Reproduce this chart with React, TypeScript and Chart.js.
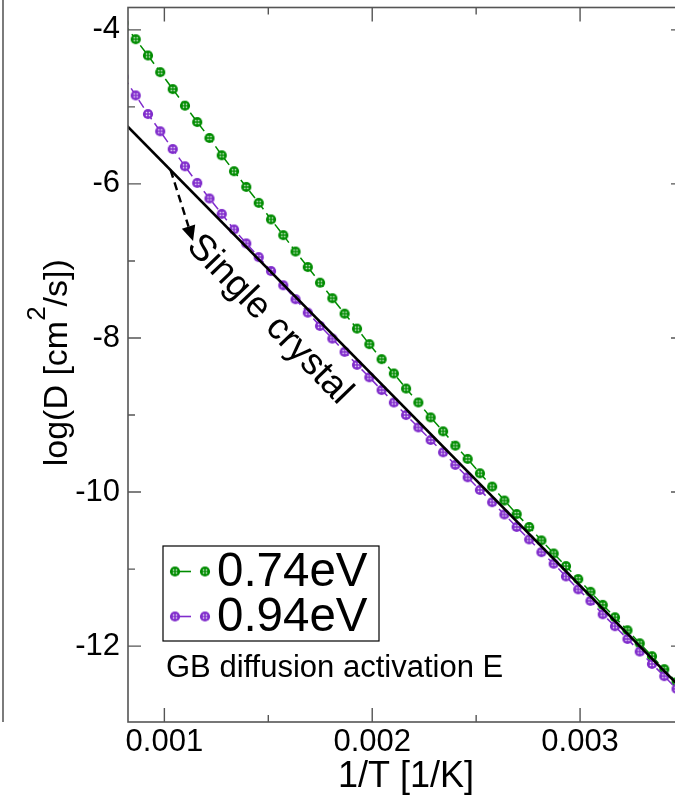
import React, { useEffect, useRef } from 'react';
import { Chart, registerables } from 'chart.js';

Chart.register(...registerables);

// ---------- data ----------
const invT = [
  0.000803, 0.000862, 0.000921, 0.00098, 0.00104, 0.001099, 0.001158, 0.001217, 0.001276, 0.001335,
  0.001394, 0.001454, 0.001513, 0.001572, 0.001631, 0.00169, 0.001749, 0.001808, 0.001867, 0.001927,
  0.001986, 0.002045, 0.002104, 0.002163, 0.002222, 0.002281, 0.002341, 0.0024, 0.002459, 0.002518,
  0.002577, 0.002636, 0.002695, 0.002755, 0.002814, 0.002873, 0.002932, 0.002991, 0.00305, 0.003109,
  0.003168, 0.003228, 0.003287, 0.003346, 0.003405, 0.003464,
];
const logD074 = [
  -3.911, -4.122, -4.333, -4.549, -4.769, -4.984, -5.197, -5.404, -5.628, -5.835,
  -6.039, -6.246, -6.461, -6.665, -6.878, -7.079, -7.282, -7.484, -7.684, -7.878,
  -8.08, -8.275, -8.461, -8.656, -8.837, -9.031, -9.212, -9.398, -9.57, -9.756,
  -9.929, -10.11, -10.285, -10.453, -10.628, -10.797, -10.961, -11.13, -11.295, -11.464,
  -11.626, -11.794, -11.963, -12.131, -12.299, -12.468,
];
const logD094 = [
  -4.609, -4.851, -5.093, -5.317, -5.547, -5.771, -5.987, -6.189, -6.389, -6.591,
  -6.772, -6.95, -7.131, -7.316, -7.497, -7.671, -7.843, -8.008, -8.18, -8.349,
  -8.51, -8.676, -8.837, -9.0, -9.161, -9.324, -9.484, -9.648, -9.808, -9.972,
  -10.132, -10.291, -10.453, -10.615, -10.78, -10.93, -11.095, -11.263, -11.412, -11.587,
  -11.742, -11.907, -12.07, -12.231, -12.39, -12.554,
];
const singleCrystalX = [0.0008, 0.0035];
const singleCrystalY = [-5.192, -12.585];

const seriesLabels = ['0.74eV', '0.94eV'];
const legendNote = 'GB diffusion activation E';
const singleCrystalLabel = 'Single crystal';
const xTitle = '1/T [1/K]';
const yTitleParts = ['log(D [cm', '2', '/s])'];

const xMajorTicks = [0.001, 0.002, 0.003];
const xMinorTicks = [0.0015, 0.0025];
const yMajorTicks = [-12, -10, -8, -6, -4];
const yMinorTicks = [-11, -9, -7, -5];

const xRange = [0.000825, 0.0035];
const yRange = [-12.985, -3.71];

// annotation anchors (data coords)
const arrowFrom = [0.00103, -5.82];
const arrowTo = [0.001138, -6.74];
const labelAnchor = [0.001505, -7.76];

const GREEN = 'rgb(0,140,0)';
const PURPLE = 'rgb(128,44,204)';
const FONT = "'Liberation Sans', Arial, Helvetica, sans-serif";

function makeMarker(color: string): HTMLCanvasElement {
  const c = document.createElement('canvas');
  c.width = 12;
  c.height = 12;
  const g = c.getContext('2d')!;
  g.fillStyle = color;
  g.beginPath();
  g.arc(6, 6, 5.1, 0, Math.PI * 2);
  g.fill();
  g.fillStyle = 'rgba(255,255,255,0.85)';
  g.fillRect(3.8, 3.8, 1.5, 1.5);
  g.fillRect(6.7, 3.8, 1.5, 1.5);
  g.fillRect(3.8, 6.7, 1.5, 1.5);
  g.fillRect(6.7, 6.7, 1.5, 1.5);
  return c;
}

export default function App() {
  const ref = useRef<HTMLCanvasElement | null>(null);

  useEffect(() => {
    const canvas = ref.current;
    if (!canvas) return;
    const mGreen = makeMarker(GREEN);
    const mPurple = makeMarker(PURPLE);
    const markers = [mGreen, mPurple];
    const colors = [GREEN, PURPLE];

    const framePlugin = {
      id: 'frameTicks',
      afterDatasetsDraw(chart: any) {
        const ctx = chart.ctx;
        const ca = chart.chartArea;
        const xs = chart.scales.x;
        const ys = chart.scales.y;
        ctx.save();
        ctx.strokeStyle = '#555';
        ctx.lineWidth = 1.6;
        ctx.strokeRect(ca.left, ca.top, ca.right - ca.left, ca.bottom - ca.top);
        ctx.lineWidth = 1.4;
        const drawX = (v: number, len: number) => {
          const px = xs.getPixelForValue(v);
          ctx.beginPath();
          ctx.moveTo(px, ca.bottom);
          ctx.lineTo(px, ca.bottom - len);
          ctx.moveTo(px, ca.top);
          ctx.lineTo(px, ca.top + len);
          ctx.stroke();
        };
        const drawY = (v: number, len: number) => {
          const py = ys.getPixelForValue(v);
          ctx.beginPath();
          ctx.moveTo(ca.left, py);
          ctx.lineTo(ca.left + len, py);
          ctx.moveTo(ca.right, py);
          ctx.lineTo(ca.right - len, py);
          ctx.stroke();
        };
        xMajorTicks.forEach((v) => drawX(v, 14));
        xMinorTicks.forEach((v) => drawX(v, 7));
        yMajorTicks.forEach((v) => drawY(v, 13));
        yMinorTicks.forEach((v) => drawY(v, 7));

        // neighbouring panel edge (left)
        ctx.strokeStyle = '#444';
        ctx.lineWidth = 1.4;
        ctx.beginPath();
        ctx.moveTo(3, 0);
        ctx.lineTo(3, ca.bottom);
        ctx.stroke();
        ctx.restore();
      },
      afterDraw(chart: any) {
        const ctx = chart.ctx;
        const ca = chart.chartArea;
        const xs = chart.scales.x;
        const ys = chart.scales.y;
        ctx.save();

        // y axis title with superscript
        ctx.save();
        ctx.fillStyle = '#000';
        ctx.textBaseline = 'alphabetic';
        ctx.textAlign = 'left';
        const mainFont = `34px ${FONT}`;
        const supFont = `26px ${FONT}`;
        ctx.font = mainFont;
        const w0 = ctx.measureText(yTitleParts[0]).width;
        const w2 = ctx.measureText(yTitleParts[2]).width;
        ctx.font = supFont;
        const w1 = ctx.measureText(yTitleParts[1]).width;
        const total = w0 + w1 + w2;
        ctx.translate(67, (ca.top + ca.bottom) / 2 - 2);
        ctx.rotate(-Math.PI / 2);
        let cx = -total / 2;
        ctx.font = mainFont;
        ctx.fillText(yTitleParts[0], cx, 0);
        cx += w0;
        ctx.font = supFont;
        ctx.fillText(yTitleParts[1], cx, -22);
        cx += w1;
        ctx.font = mainFont;
        ctx.fillText(yTitleParts[2], cx, 0);
        ctx.restore();

        // legend box
        const bl = ca.left + 35;
        const bt = ca.bottom - 176;
        const bw = 216;
        const bh = 95;
        ctx.fillStyle = '#fff';
        ctx.fillRect(bl, bt, bw, bh);
        ctx.strokeStyle = '#000';
        ctx.lineWidth = 1.2;
        ctx.strokeRect(bl, bt, bw, bh);
        seriesLabels.forEach((lab, i) => {
          const ry = bt + 25.5 + i * 45;
          ctx.strokeStyle = colors[i];
          ctx.lineWidth = 1.6;
          ctx.beginPath();
          ctx.moveTo(bl + 12, ry);
          ctx.lineTo(bl + 28, ry);
          ctx.stroke();
          ctx.drawImage(markers[i], bl + 12 - 6, ry - 6);
          ctx.drawImage(markers[i], bl + 42 - 6, ry - 6);
          ctx.fillStyle = '#000';
          ctx.font = `47.5px ${FONT}`;
          ctx.textAlign = 'left';
          ctx.textBaseline = 'middle';
          ctx.fillText(lab, bl + 54, ry + 1);
        });
        ctx.font = `31px ${FONT}`;
        ctx.fillStyle = '#000';
        ctx.textAlign = 'left';
        ctx.textBaseline = 'middle';
        ctx.fillText(legendNote, bl + 3, bt + 122);

        // dashed arrow
        const x1 = xs.getPixelForValue(arrowFrom[0]);
        const y1 = ys.getPixelForValue(arrowFrom[1]);
        const x2 = xs.getPixelForValue(arrowTo[0]);
        const y2 = ys.getPixelForValue(arrowTo[1]);
        const ang = Math.atan2(y2 - y1, x2 - x1);
        const headLen = 15;
        const headHalf = 7;
        const bx = x2 - headLen * Math.cos(ang);
        const by = y2 - headLen * Math.sin(ang);
        ctx.strokeStyle = '#000';
        ctx.lineWidth = 2.4;
        ctx.setLineDash([8, 5]);
        ctx.beginPath();
        ctx.moveTo(x1, y1);
        ctx.lineTo(bx, by);
        ctx.stroke();
        ctx.setLineDash([]);
        ctx.fillStyle = '#000';
        ctx.beginPath();
        ctx.moveTo(x2, y2);
        ctx.lineTo(bx + headHalf * Math.sin(ang), by - headHalf * Math.cos(ang));
        ctx.lineTo(bx - headHalf * Math.sin(ang), by + headHalf * Math.cos(ang));
        ctx.closePath();
        ctx.fill();

        // rotated label
        const lx = xs.getPixelForValue(labelAnchor[0]);
        const ly = ys.getPixelForValue(labelAnchor[1]);
        ctx.translate(lx, ly);
        ctx.rotate((46 * Math.PI) / 180);
        ctx.font = `37px ${FONT}`;
        ctx.textAlign = 'center';
        ctx.textBaseline = 'middle';
        ctx.fillText(singleCrystalLabel, 0, 0);
        ctx.restore();
      },
    };

    const chart = new Chart(canvas, {
      type: 'line',
      data: {
        datasets: [
          {
            label: singleCrystalLabel,
            data: singleCrystalX.map((x, i) => ({ x, y: singleCrystalY[i] })),
            borderColor: '#000',
            borderWidth: 2.6,
            pointRadius: 0,
            fill: false,
          },
          {
            label: seriesLabels[1],
            data: invT.map((x, i) => ({ x, y: logD094[i] })),
            borderColor: PURPLE,
            borderWidth: 1.5,
            borderDash: [9, 5],
            pointStyle: mPurple,
            pointRadius: 6,
            fill: false,
          },
          {
            label: seriesLabels[0],
            data: invT.map((x, i) => ({ x, y: logD074[i] })),
            borderColor: GREEN,
            borderWidth: 1.5,
            borderDash: [9, 5],
            pointStyle: mGreen,
            pointRadius: 6,
            fill: false,
          },
        ],
      },
      options: {
        responsive: false,
        maintainAspectRatio: false,
        animation: false,
        devicePixelRatio: 1,
        layout: { padding: { top: 6, right: 16, left: 0, bottom: 0 } },
        plugins: {
          legend: { display: false },
          tooltip: { enabled: false },
        },
        scales: {
          x: {
            type: 'linear',
            min: xRange[0],
            max: xRange[1],
            grid: { display: false, drawTicks: false },
            border: { display: false },
            afterBuildTicks: (s: any) => {
              s.ticks = xMajorTicks.map((v) => ({ value: v }));
            },
            afterFit: (s: any) => {
              s.height = 75;
              s.paddingLeft = 0;
              s.paddingRight = 0;
            },
            ticks: {
              color: '#000',
              padding: 2,
              maxRotation: 0,
              font: { family: FONT, size: 31 },
              callback: (v: any) => Number(v).toFixed(3),
            },
            title: {
              display: true,
              text: xTitle,
              color: '#000',
              font: { family: FONT, size: 36, lineHeight: 1.1 },
              padding: { top: 0, bottom: 0 },
            },
          },
          y: {
            type: 'linear',
            min: yRange[0],
            max: yRange[1],
            grid: { display: false, drawTicks: false },
            border: { display: false },
            afterBuildTicks: (s: any) => {
              s.ticks = yMajorTicks.map((v) => ({ value: v }));
            },
            afterFit: (s: any) => {
              s.width = 128;
              s.paddingTop = 0;
              s.paddingBottom = 0;
            },
            ticks: {
              color: '#000',
              padding: 8,
              font: { family: FONT, size: 31 },
              callback: (v: any) => String(v),
            },
            title: { display: false },
          },
        },
      },
      plugins: [framePlugin],
    } as any);

    return () => chart.destroy();
  }, []);

  return (
    <div
      style={{
        position: 'fixed',
        left: 0,
        top: 0,
        width: 675,
        height: 797,
        overflow: 'hidden',
        background: '#fff',
      }}
    >
      <canvas ref={ref} width={700} height={797} style={{ display: 'block', width: 700, height: 797 }} />
    </div>
  );
}
